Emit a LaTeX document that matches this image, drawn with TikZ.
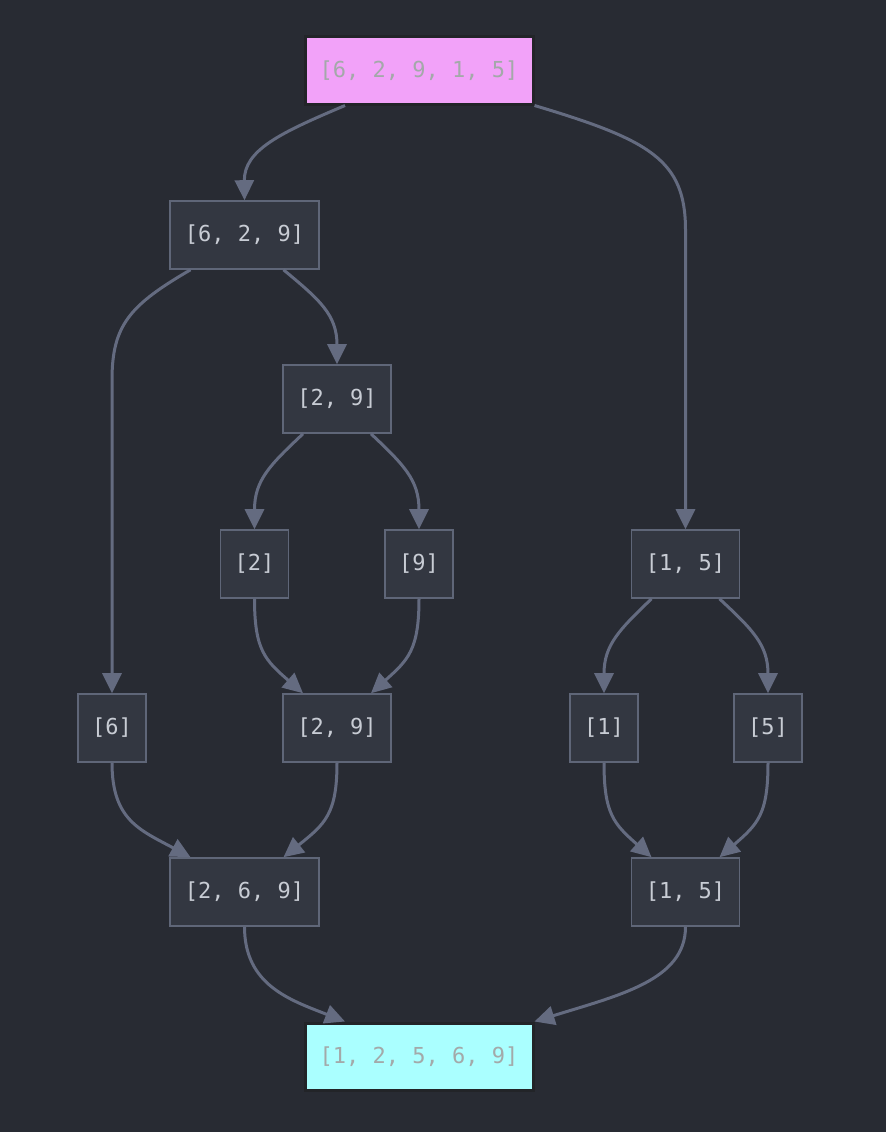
\documentclass[tikz,border=0pt]{standalone}
\usepackage{fontspec}
\setmonofont{DejaVu Sans Mono}
\usetikzlibrary{arrows.meta}
\definecolor{bg}{HTML}{282B33}
\definecolor{nfill}{HTML}{333741}
\definecolor{nline}{HTML}{5F6678}
\definecolor{ntext}{HTML}{C8CCD4}
\definecolor{eline}{HTML}{646B80}
\definecolor{pinkf}{HTML}{F2A2F9}
\definecolor{cyanf}{HTML}{AAFFFF}
\definecolor{graytext}{HTML}{A3A9A9}
\definecolor{darkline}{HTML}{222428}
\tikzset{
  box/.style={draw=nline, line width=1.6pt, fill=nfill, text=ntext, inner sep=0pt,
    minimum height=68pt, font=\fontsize{22pt}{25pt}\selectfont\ttfamily},
  w1/.style={minimum width=68pt},
  w2/.style={minimum width=108pt},
  w3/.style={minimum width=149pt},
  w5/.style={minimum width=228pt, minimum height=67pt},
  special/.style={draw=darkline, line width=3pt, text=graytext},
  edge/.style={draw=eline, line width=3pt, -{Triangle[length=20pt,width=19pt]}},
}
\begin{document}
\begin{tikzpicture}[x=1pt,y=-1pt]
\fill[bg] (0,0) rectangle (886,1132);
\useasboundingbox (0,0) rectangle (886,1132);

\node[box,w5,special,fill=pinkf] (top) at (419,70.5) {[6, 2, 9, 1, 5]};
\node[box,w3] (a) at (244.5,235) {[6, 2, 9]};
\node[box,w2] (b) at (337,399) {[2, 9]};
\node[box,w1] (c2) at (254.5,564) {[2]};
\node[box,w1] (c9) at (419,564) {[9]};
\node[box,w2] (d) at (685.5,564) {[1, 5]};
\node[box,w1] (e6) at (112,728) {[6]};
\node[box,w2] (f) at (337,728) {[2, 9]};
\node[box,w1] (g1) at (604,728) {[1]};
\node[box,w1] (g5) at (768,728) {[5]};
\node[box,w3] (h) at (244.5,892) {[2, 6, 9]};
\node[box,w2] (k) at (685.5,892) {[1, 5]};
\node[box,w5,special,fill=cyanf] (bot) at (419,1056.5) {[1, 2, 5, 6, 9]};

% top to [6,2,9]
\draw[edge] (top.south) ++(-74,0) coordinate (t1)
  (t1) .. controls (280,133) and (244,150) .. (a.north);
% top to [1,5]
\draw[edge] (top.south east) .. controls (650,140) and (685.5,160) .. (685.5,230) -- (d.north);
% [6,2,9] to [6]
\draw[edge] (a.south) ++(-54,0) coordinate (a1)
  (a1) .. controls (130,305) and (112,325) .. (112,380) -- (e6.north);
% [6,2,9] to [2,9]
\draw[edge] (a.south) ++(39,0) coordinate (a2)
  (a2) .. controls (320,300) and (337,315) .. (b.north);
% [2,9] to [2], [9]
\draw[edge] (b.south) ++(-34,0) coordinate (b1)
  (b1) .. controls (270,465) and (254.5,480) .. (c2.north);
\draw[edge] (b.south) ++(34,0) coordinate (b2)
  (b2) .. controls (404,465) and (419,480) .. (c9.north);
% [2],[9] to [2,9]
\draw[edge] (c2.south) .. controls (254.5,650) and (265,660) .. ([xshift=-34pt]f.north);
\draw[edge] (c9.south) .. controls (419,650) and (408,660) .. ([xshift=34pt]f.north);
% [1,5] to [1],[5]
\draw[edge] (d.south) ++(-34,0) coordinate (d1)
  (d1) .. controls (619,630) and (604,645) .. (g1.north);
\draw[edge] (d.south) ++(34,0) coordinate (d2)
  (d2) .. controls (753,630) and (768,645) .. (g5.north);
% [1],[5] to [1,5]
\draw[edge] (g1.south) .. controls (604,814) and (614,824) .. ([xshift=-34pt]k.north);
\draw[edge] (g5.south) .. controls (768,814) and (758,824) .. ([xshift=34pt]k.north);
% [6],[2,9] to [2,6,9]
\draw[edge] (e6.south) .. controls (112,820) and (140,830) .. ([xshift=-54pt]h.north);
\draw[edge] (f.south) .. controls (337,814) and (325,824) .. ([xshift=39pt]h.north);
% to bottom
\draw[edge] (h.south) .. controls (244.5,985) and (290,1000) .. ([xshift=-74pt]bot.north);
\draw[edge] (k.south) .. controls (685.5,980) and (620,995) .. (bot.north east);
\end{tikzpicture}
\end{document}
